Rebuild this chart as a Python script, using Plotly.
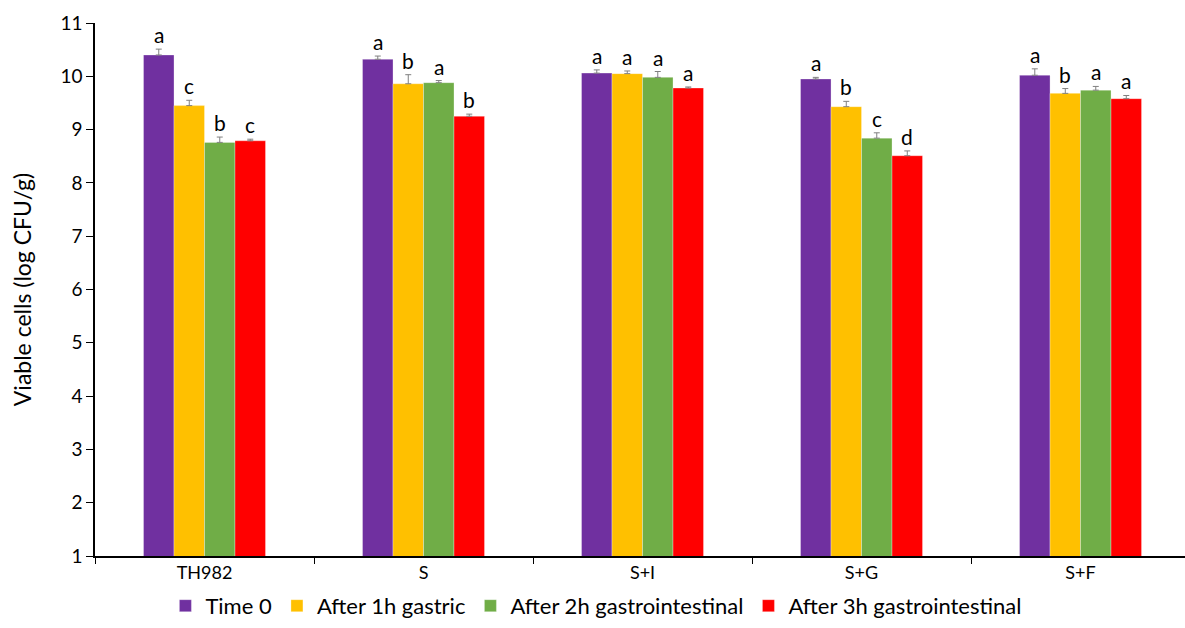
import plotly.graph_objects as go

# Treatments on the x axis
categories = ["TH982", "S", "S+I", "S+G", "S+F"]

# Viable cell counts (log CFU/g) per sampling time
time0 = [10.40, 10.32, 10.06, 9.95, 10.02]
gastric_1h = [9.45, 9.86, 10.05, 9.43, 9.68]
gi_2h = [8.76, 9.88, 9.98, 8.84, 9.74]
gi_3h = [8.79, 9.25, 9.78, 8.51, 9.58]

# Standard deviations
sd_time0 = [0.11, 0.06, 0.06, 0.03, 0.12]
sd_gastric_1h = [0.10, 0.17, 0.05, 0.10, 0.09]
sd_gi_2h = [0.10, 0.04, 0.11, 0.10, 0.07]
sd_gi_3h = [0.03, 0.04, 0.02, 0.09, 0.06]

# Significance letters
let_time0 = ["a", "a", "a", "a", "a"]
let_gastric_1h = ["c", "b", "a", "b", "b"]
let_gi_2h = ["b", "a", "a", "c", "a"]
let_gi_3h = ["c", "b", "a", "d", "a"]

names = ["Time 0", "After 1h gastric", "After 2h gastrointestinal", "After 3h gastrointestinal"]
values = [time0, gastric_1h, gi_2h, gi_3h]
errors = [sd_time0, sd_gastric_1h, sd_gi_2h, sd_gi_3h]
letters = [let_time0, let_gastric_1h, let_gi_2h, let_gi_3h]
colors = ["#7030A0", "#FFC000", "#70AD47", "#FF0000"]

FONT = "Lato, Calibri, Carlito, sans-serif"
BARGAP = 0.443

fig = go.Figure()
for name, vals, errs, col in zip(names, values, errors, colors):
    fig.add_trace(go.Bar(
        name=name, x=categories, y=vals,
        marker=dict(color=col, line=dict(color="rgba(255,255,255,0.5)", width=0.6)),
        error_y=dict(type="data", array=errs, arrayminus=[0] * len(errs),
                     symmetric=False, color="#808080", thickness=1, width=3),
    ))

# Letters above each error bar
n = len(names)
bar_w = (1 - BARGAP) / n
annotations = []
for i, (vals, errs, lets) in enumerate(zip(values, errors, letters)):
    off = -(1 - BARGAP) / 2 + (i + 0.5) * bar_w
    for j, (v, e, t) in enumerate(zip(vals, errs, lets)):
        annotations.append(dict(
            x=j + off, y=v + e, text=t, showarrow=False,
            xanchor="center", yanchor="bottom", yshift=0,
            font=dict(family=FONT, size=21, color="#000000"),
        ))

fig.update_layout(
    width=1185, height=628,
    margin=dict(l=95, r=0, t=23, b=72),
    paper_bgcolor="white", plot_bgcolor="white",
    barmode="group", bargap=BARGAP, bargroupgap=0,
    font=dict(family=FONT, color="#000000"),
    annotations=annotations,
    showlegend=True,
    legend=dict(orientation="h", x=0.46, xanchor="center", y=-0.133, yanchor="bottom",
                font=dict(family=FONT, size=22, color="#000000"),
                itemwidth=30, traceorder="normal"),
    xaxis=dict(
        type="category", range=[-0.5, 4.477],
        showline=True, linecolor="#000000", linewidth=1.5,
        ticks="outside", tickson="boundaries", ticklen=6, tickcolor="#000000",
        tickfont=dict(family=FONT, size=18, color="#000000"),
        showgrid=False, zeroline=False,
    ),
    yaxis=dict(
        range=[1, 11], dtick=1,
        showline=True, linecolor="#000000", linewidth=1.5,
        ticks="outside", ticklen=7, tickcolor="#000000",
        tickfont=dict(family=FONT, size=19, color="#000000"),
        showgrid=False, zeroline=False,
        title=dict(text="Viable cells (log CFU/g)", standoff=22,
                   font=dict(family=FONT, size=23, color="#000000")),
    ),
)

fig.write_html("out.html")
